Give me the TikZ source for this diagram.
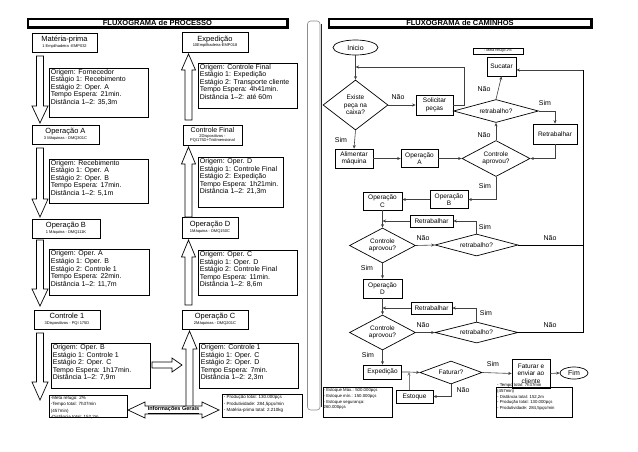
\documentclass[tikz,border=0pt]{standalone}
\usepackage{fontspec}
\setmainfont{Liberation Sans}
\usetikzlibrary{arrows.meta,shapes.geometric,calc}
\newcommand{\fs}[2]{\fontsize{#1}{#2}\selectfont}
% process box text: main size, main text, sub lines
\newcommand{\ptx}[3]{{\fs{4}{4.6}\begin{tabular}{@{}c@{}}\fs{#1}{#1}#2\\[1pt]#3\end{tabular}}}
% block arrow: x, tail y, head-base y, tip y, head half width
\newcommand{\barrow}[5]{%
  \draw[blk] ({#1-3.5},#2) -- ({#1-3.5},#3) -- ({#1-#5},#3) -- (#1,#4)
    -- ({#1+#5},#3) -- ({#1+3.5},#3) -- ({#1+3.5},#2) -- cycle;}
\tikzset{
  pbox/.style={draw, line width=0.7pt, fill=white, inner sep=0pt, align=center},
  ibox/.style={draw, line width=0.7pt, fill=white, inner xsep=1.5pt, inner ysep=1pt, anchor=north west},
  blk/.style={draw, line width=0.7pt, fill=white},
  fbox/.style={draw, line width=0.7pt, fill=white, inner sep=0pt, align=center, font=\fs{6.5}{7.4}},
  dia/.style={diamond, draw, line width=0.7pt, fill=white, inner sep=0pt},
  ell/.style={ellipse, draw, line width=0.7pt, fill=white, inner sep=0pt, font=\fs{7}{8}},
  lbl/.style={font=\fs{7}{8}, inner sep=0pt},
  ttl/.style={font=\bfseries\fs{7.5}{8}, inner sep=0pt},
  con/.style={draw=black!75, line width=0.6pt, -{Stealth[length=3.5pt,width=3pt]}},
  ln/.style={draw=black!75, line width=0.6pt},
}
\begin{document}
\begin{tikzpicture}[x=1pt,y=-1pt]
\useasboundingbox[fill=white] (0,0) rectangle (638,451);

% ---------- title bars ----------
\fill (27,18) rectangle (289,28.5);
\fill[white] (28.8,19.6) rectangle (286,26.2);
\node[ttl] (t1) at (157.5,23) {FLUXOGRAMA de PROCESSO};
\fill (328,18) rectangle (593,28.5);
\fill[white] (329.8,19.6) rectangle (590,26.2);
\node[ttl] (t2) at (460,23) {FLUXOGRAMA de CAMINHOS};

% separator frame
\draw[black!45, line width=0.6pt, rounded corners=3pt] (307.5,21) rectangle (320,410);
\draw[black!85, line width=1.3pt] (321.3,24) -- (321.3,407);

% ---------- left panel: process boxes ----------
\node[pbox, minimum width=65pt, minimum height=19pt] (mp) at (64.5,42.5)
  {\ptx{7.5}{Matéria-prima}{1 Empilhadeira -EMP032}};
\node[pbox, minimum width=67pt, minimum height=19pt] (opA) at (65.5,134.5)
  {\ptx{7.5}{Operação A}{3 Máquinas - DMQ301C}};
\node[pbox, minimum width=68pt, minimum height=19pt] (opB) at (66,228.5)
  {\ptx{7.5}{Operação B}{1 Máquina - DMQ111K}};
\node[pbox, minimum width=66pt, minimum height=19pt] (ctl1) at (67,319.5)
  {\ptx{7.5}{Controle 1}{3Dispositivos - PQI 175D}};
\node[pbox, minimum width=66pt, minimum height=20pt] (expL) at (215,42)
  {\ptx{7.5}{Expedição}{10Empilhadeira-EMP018}};
\node[pbox, minimum width=59pt, minimum height=20pt] (cfin) at (212.5,135)
  {\ptx{7}{Controle Final}{2Dispositivos -\\[-0.5pt]PQI175D+Tridimensional}};
\node[pbox, minimum width=56pt, minimum height=21pt] (opD) at (210,227.5)
  {\ptx{7.5}{Operação D}{1Máquina - DMQ150C}};
\node[pbox, minimum width=66pt, minimum height=19pt] (opC) at (215,319.5)
  {\ptx{7.5}{Operação C}{2Máquinas - DMQ201C}};

% block arrows
\barrow{40}{56}{106}{123}{8}
\barrow{40}{148}{199}{217}{8}
\barrow{40}{240}{289}{306}{8}
\barrow{40}{333}{382}{400}{8}
\barrow{188.5}{120}{70}{54}{7}
\barrow{188.5}{217}{164}{147}{7}
\barrow{188.5}{305}{257}{240}{7}
\barrow{189.5}{409}{349}{331}{7.5}

% small right arrow and double arrow
\draw[blk] (152,362) -- (172,362) -- (172,358) -- (182,365) -- (172,372) -- (172,368) -- (152,368) -- cycle;
\draw[blk] (128,410) -- (145,402) -- (145,406) -- (202,406) -- (202,402) -- (219,410)
  -- (202,418) -- (202,414) -- (145,414) -- (145,418) -- cycle;
\node[font=\bfseries\fs{5.5}{6}, inner sep=0pt] (ig) at (173.5,410) {\underline{Informações Gerais}};

% info boxes
\node[ibox] (i1) at (49,68) {\parbox[t][47pt][t]{96pt}{\fs{7}{7.5}\raggedright
  Origem: Fornecedor\\Estágio 1: Recebimento\\Estágio 2: Oper. A\\Tempo Espera: 21min.\\Distância 1–2: 35,3m}};
\node[ibox] (i2) at (49,159) {\parbox[t][42pt][t]{96pt}{\fs{7}{7.5}\raggedright
  Origem: Recebimento\\Estágio 1: Oper. A\\Estágio 2: Oper. B\\Tempo Espera: 17min.\\Distância 1–2: 5,1m}};
\node[ibox] (i3) at (49,249) {\parbox[t][44pt][t]{97pt}{\fs{7}{7.8}\raggedright
  Origem: Oper. A\\Estágio 1: Oper. B\\Estágio 2: Controle 1\\Tempo Espera: 22min.\\Distância 1–2: 11,7m}};
\node[ibox] (i4) at (51,343) {\parbox[t][43pt][t]{96pt}{\fs{7}{7.6}\raggedright
  Origem: Oper. B\\Estágio 1: Controle 1\\Estágio 2: Oper. C\\Tempo Espera: 1h17min.\\Distância 1–2: 7,9m}};
\node[ibox] (j1) at (198,63) {\parbox[t][43pt][t]{96pt}{\fs{7}{7.5}\raggedright
  Origem: Controle Final\\Estágio 1: Expedição\\Estágio 2: Transporte cliente\\Tempo Espera: 4h41min.\\Distância 1–2: até 60m}};
\node[ibox] (j2) at (198,157) {\parbox[t][48pt][t]{82pt}{\fs{7}{7.6}\raggedright
  Origem: Oper. D\\Estágio 1: Controle Final\\Estágio 2: Expedição\\Tempo Espera: 1h21min.\\Distância 1–2: 21,3m}};
\node[ibox] (j3) at (198,250) {\parbox[t][43pt][t]{96pt}{\fs{7}{7.6}\raggedright
  Origem: Oper. C\\Estágio 1: Oper. D\\Estágio 2: Controle Final\\Tempo Espera: 11min.\\Distância 1–2: 8,6m}};
\node[ibox] (j4) at (199,343) {\parbox[t][43pt][t]{96pt}{\fs{7}{7.6}\raggedright
  Origem: Controle 1\\Estágio 1: Oper. C\\Estágio 2: Oper. D\\Tempo Espera: 7min.\\Distância 1–2: 2,3m}};
\node[ibox] (g1) at (49,395) {\parbox[t][20pt][t]{75pt}{\fs{4.5}{6.3}\raggedright
  -Meta refugo: 2\%\\-Tempo total: 7h37min\\(457min)\\-Distância total: 152,2m}};
\node[ibox] (g2) at (222,394) {\parbox[t][21pt][t]{77pt}{\fs{4.5}{6.5}\raggedright
  - Produção total: 130.000pçs\\- Produtividade: 284,5pçs/min\\- Matéria-prima total: 2.210kg}};

% ---------- right panel: flowchart ----------
\node[ell, minimum width=45pt, minimum height=15pt] (ini) at (355.5,47.5) {Inicio};
\node[dia, minimum width=65pt, minimum height=50pt, label={[align=center,font=\fs{6.5}{7.5}]center:Existe\\peça na\\caixa?}] (d1) at (355.5,105) {};
\node[fbox, minimum width=37pt, minimum height=20pt] (sol) at (434.5,105) {Solicitar\\peças};
\node[fbox, minimum width=38pt, minimum height=19pt] (ali) at (354,158.5) {Alimentar\\máquina};
\node[fbox, minimum width=37pt, minimum height=18pt] (opa) at (419.5,158.5) {Operação\\A};
\node[dia, minimum width=68pt, minimum height=36pt, label={[align=center,font=\fs{6.5}{7.5}]center:Controle\\aprovou?}] (c1) at (496,158.5) {};
\node[dia, minimum width=85pt, minimum height=23pt, label={[font=\fs{6.5}{7.5}]center:retrabalho?}] (r1) at (496,111) {};
\node[fbox, minimum width=29pt, minimum height=19pt] (suc) at (501.5,66.5) {Sucatar};
\node[draw, line width=0.5pt, inner sep=0pt, minimum width=50pt, minimum height=6.5pt, font=\fs{3.6}{4}] (meta) at (498,51) {- Meta refugo 2\%};
\node[fbox, minimum width=44pt, minimum height=20pt] (ret1) at (555,134) {Retrabalhar};
\node[fbox, minimum width=38pt, minimum height=18pt] (opb) at (449,199.5) {Operação\\B};
\node[fbox, minimum width=39pt, minimum height=18pt] (opc) at (382.5,201) {Operação\\C};
\node[fbox, minimum width=43pt, minimum height=12pt] (ret2) at (431.5,221) {Retrabalhar};
\node[dia, minimum width=66pt, minimum height=35pt, label={[align=center,font=\fs{6.5}{7.5}]center:Controle\\aprovou?}] (c2) at (382.5,245.5) {};
\node[dia, minimum width=83pt, minimum height=22pt, label={[font=\fs{6.5}{7.5}]center:retrabalho?}] (r2) at (476.5,245) {};
\node[fbox, minimum width=39pt, minimum height=19pt] (opd) at (382.5,288.5) {Operação\\D};
\node[fbox, minimum width=41pt, minimum height=12pt] (ret3) at (431.5,308) {Retrabalhar};
\node[dia, minimum width=66pt, minimum height=35pt, label={[align=center,font=\fs{6.5}{7.5}]center:Controle\\aprovou?}] (c3) at (382.5,332.5) {};
\node[dia, minimum width=83pt, minimum height=21pt, label={[font=\fs{6.5}{7.5}]center:retrabalho?}] (r3) at (476.5,332.5) {};
\node[fbox, minimum width=38pt, minimum height=14pt] (exp) at (382.5,372) {Expedição};
\node[dia, minimum width=62pt, minimum height=23pt, label={[font=\fs{6.5}{7.5}]center:Faturar?}] (fat) at (451,372.5) {};
\node[fbox, minimum width=37pt, minimum height=13pt] (est) at (414.5,396.5) {Estoque};
\node[fbox, minimum width=38pt, minimum height=29pt, font=\fs{6.5}{7.6}] (fe) at (531,373.5) {Faturar e\\enviar ao\\cliente};
\node[ell, minimum width=28pt, minimum height=12pt] (fim) at (574,373) {Fim};

% info boxes right panel
\node[ibox, inner xsep=0.8pt] (e1) at (322.5,387) {\parbox[t][28pt][t]{68pt}{\fs{4.3}{5.8}\raggedright
  - Estoque Máx.: 500.000pçs\\- Estoque mín.: 150.000pçs\\- Estoque segurança:\\260.000pçs}};
\node[draw, line width=0.7pt, minimum width=76pt, minimum height=30pt, inner sep=0pt, anchor=north west] (e2) at (496,387) {};
\node[anchor=north west, inner sep=0pt, align=left, font=\fs{4.3}{5.6}] (e2t) at (497,383.5)
  {- Tempo total: 7h37min\\(457min)\\- Distância total: 152,2m\\- Produção total: 130.000pçs\\- Produtividade: 284,5pçs/min};

% junction coordinates
\coordinate (ja) at (355.5,67);
\coordinate (jb) at (382.5,221);
\coordinate (jc) at (382.5,308);
\coordinate (jd) at (409,372);
\coordinate (xr) at (583,70);

% connectors
\draw[con] (ini) -- (ja) -- (d1.north);
\draw[con] (sol.east) -- ++(11,0) |- (ja);
\draw[con] (d1.east) -- (sol.west);
\draw[con] (d1.south) -- (ali.north);
\draw[con] (ali) -- (opa);
\draw[con] (opa) -- (c1.west);
\draw[con] (c1.north) -- (r1.south);
\draw[con] (r1.north) -- (suc.south);
\draw[con] (r1.east) -| (ret1.north);
\draw[con] (ret1.south) |- (c1.east);
\draw[con] (c1.south) |- (opb.east);
\draw[con] (opb.west) -- (opb.west -| opc.east);
\draw[con] (opc.south) -- (jb) -- (c2.north);
\draw[con] (ret2.west) -- (jb);
\draw[con] (c2.east) -- (r2.west);
\draw[con] (r2.north) |- (ret2.east);
\draw[line width=0.7pt] (r2.east) -- (r2.east -| xr);
\draw[con] (c2.south) -- (opd.north);
\draw[con] (opd.south) -- (jc) -- (c3.north);
\draw[con] (ret3.west) -- (jc);
\draw[con] (c3.east) -- (r3.west);
\draw[con] (r3.north) |- (ret3.east);
\draw[line width=0.7pt] (r3.east) -| (xr);
\draw[con] (xr) -- (xr -| suc.east);
\draw[con] (c3.south) -- (exp.north);
\draw[con] (exp.east) -- (jd) -- (fat.west);
\draw[con, draw=black!50] (est.north -| jd) -- (jd);
\draw[con] (fat.south) |- (est.east);
\draw[con] (fat.east) -- (fe.west);
\draw[con] (fe.east) -- (fim.west);

% labels
\node[lbl] (l1) at (398,97.5) {Não};
\node[lbl] (l2) at (341,140) {Sim};
\node[lbl] (l3) at (484,89) {Não};
\node[lbl] (l4) at (545,103) {Sim};
\node[lbl] (l5) at (484,135) {Não};
\node[lbl] (l6) at (485,186) {Sim};
\node[lbl] (l7) at (485,227) {Sim};
\node[lbl] (l8) at (423,238) {Não};
\node[lbl] (l9) at (550,238) {Não};
\node[lbl] (l10) at (367,268) {Sim};
\node[lbl] (l11) at (486,313) {Sim};
\node[lbl] (l12) at (423,325) {Não};
\node[lbl] (l13) at (550,325) {Não};
\node[lbl] (l14) at (368,355) {Sim};
\node[lbl] (l15) at (493,364) {Sim};
\node[lbl] (l16) at (463,390) {Não};
\end{tikzpicture}
\end{document}
